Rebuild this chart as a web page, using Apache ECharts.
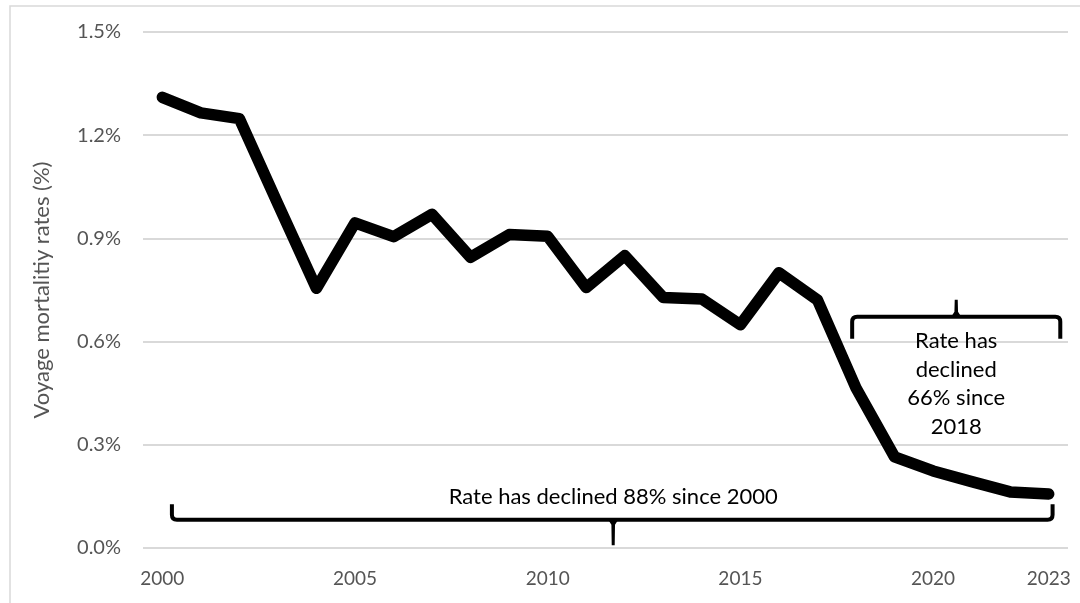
<!DOCTYPE html>
<html>
<head>
<meta charset="utf-8">
<style>
  html, body { margin: 0; padding: 0; background: #ffffff; }
  #chart { width: 1080px; height: 603px; }
</style>
<script src="https://cdn.jsdelivr.net/npm/echarts@6/dist/echarts.min.js"></script>
</head>
<body>
<div id="chart"></div>
<script>
// Voyage mortality rate by year
const years = ['2000','2001','2002','2003','2004','2005','2006','2007','2008','2009','2010','2011',
               '2012','2013','2014','2015','2016','2017','2018','2019','2020','2021','2022','2023'];
const rates = [1.31, 1.265, 1.248, 1.0, 0.755, 0.945, 0.905, 0.97, 0.845, 0.911, 0.906, 0.757,
               0.85, 0.728, 0.724, 0.649, 0.80, 0.721, 0.465, 0.265, 0.224, 0.193, 0.163, 0.157];
const shownYearLabels = ['2000','2005','2010','2015','2020','2023'];

// Bracket annotations: span on the year index scale, bar level, end level, tick position/level, text
const braceFrom   = [0.25, 17.9];
const braceTo     = [23.1, 23.3];
const braceLevel  = [0.082, 0.672];
const braceEnd    = [0.127, 0.608];
const braceTickX  = [11.7, 20.6];
const braceTickY  = [0.008, 0.722];
const braceText   = ['Rate has declined 88% since 2000', 'Rate has\ndeclined\n66% since\n2018'];
const braceTextX  = [11.7, 20.6];
const braceTextY  = [0.108, 0.643];

const braceData = braceFrom.map((f, i) => [f, braceTo[i], braceLevel[i], braceEnd[i],
                                           braceTickX[i], braceTickY[i], braceTextX[i], braceTextY[i], i]);

const FONT = 'Lato, "Open Sans", sans-serif';

const chart = echarts.init(document.getElementById('chart'), null, { renderer: 'canvas' });

function renderBrace(params, api) {
  const x0 = api.value(0), x1 = api.value(1), yl = api.value(2), ye = api.value(3);
  const tx = api.value(4), ty = api.value(5), lx = api.value(6), ly = api.value(7);
  const idx = api.value(8);
  const pA = api.coord([x0, ye]), pB = api.coord([x0, yl]);
  const pC = api.coord([x1, yl]), pD = api.coord([x1, ye]);
  const pT = api.coord([tx, yl]), pTip = api.coord([tx, ty]);
  const dir = pA[1] < pB[1] ? -1 : 1; // ends point toward ye
  const r = 5;
  const path = [
    'M', pA[0], pA[1],
    'L', pB[0], pB[1] + dir * r,
    'Q', pB[0], pB[1], pB[0] + r, pB[1],
    'L', pC[0] - r, pC[1],
    'Q', pC[0], pC[1], pC[0], pC[1] + dir * r,
    'L', pD[0], pD[1]
  ].join(' ');
  const tdir = pTip[1] > pT[1] ? 1 : -1;
  const children = [
    {
      type: 'path',
      shape: { pathData: path },
      style: { stroke: '#000', fill: null, lineWidth: 4, lineJoin: 'round', lineCap: 'butt' }
    },
    {
      type: 'polygon',
      shape: { points: [
        [pT[0] - 5, pT[1]],
        [pT[0] + 5, pT[1]],
        [pT[0] + 1.8, pT[1] + tdir * 5],
        [pTip[0] + 1.5, pTip[1]],
        [pTip[0] - 1.5, pTip[1]],
        [pT[0] - 1.8, pT[1] + tdir * 5]
      ] },
      style: { fill: '#000' }
    }
  ];
  const lp = api.coord([lx, ly]);
  children.push({
    type: 'text',
    x: lp[0], y: lp[1],
    style: {
      text: braceText[idx],
      fill: '#000',
      font: '22px ' + FONT,
      align: 'center',
      verticalAlign: idx === 0 ? 'bottom' : 'top',
      lineHeight: 28.5
    }
  });
  return { type: 'group', children };
}

chart.setOption({
  backgroundColor: '#ffffff',
  animation: false,
  grid: { left: 143, right: 12, top: 32, bottom: 55 },
  xAxis: [
    {
      type: 'category',
      data: years,
      boundaryGap: true,
      axisLine: { show: false },
      axisTick: { show: false },
      axisLabel: {
        interval: 0,
        margin: 21,
        color: '#555555',
        fontFamily: FONT,
        fontSize: 19,
        formatter: v => shownYearLabels.includes(v) ? v : ''
      },
      splitLine: { show: false }
    },
    {
      type: 'value',
      min: -0.5,
      max: 23.5,
      show: false
    }
  ],
  yAxis: {
    type: 'value',
    min: 0,
    max: 1.5,
    interval: 0.3,
    name: 'Voyage mortalitiy rates (%)',
    nameLocation: 'middle',
    nameGap: 90,
    nameRotate: 90,
    nameTextStyle: { color: '#555555', fontFamily: FONT, fontSize: 22 },
    axisLine: { show: false },
    axisTick: { show: false },
    axisLabel: {
      margin: 22,
      color: '#555555',
      fontFamily: FONT,
      fontSize: 20,
      formatter: v => v.toFixed(1) + '%'
    },
    splitLine: { lineStyle: { color: '#d9d9d9', width: 2 } }
  },
  graphic: [
    {
      type: 'rect',
      shape: { x: 10, y: 6, width: 1100, height: 620 },
      style: { fill: null, stroke: '#d9d9d9', lineWidth: 1.5 },
      silent: true,
      z: -10
    }
  ],
  series: [
    {
      type: 'line',
      data: rates,
      symbol: 'none',
      smooth: false,
      lineStyle: { color: '#000000', width: 11.5, cap: 'round', join: 'round' },
      z: 3
    },
    {
      type: 'custom',
      xAxisIndex: 1,
      yAxisIndex: 0,
      data: braceData,
      renderItem: renderBrace,
      clip: false,
      silent: true,
      z: 4
    }
  ]
});
</script>
</body>
</html>
